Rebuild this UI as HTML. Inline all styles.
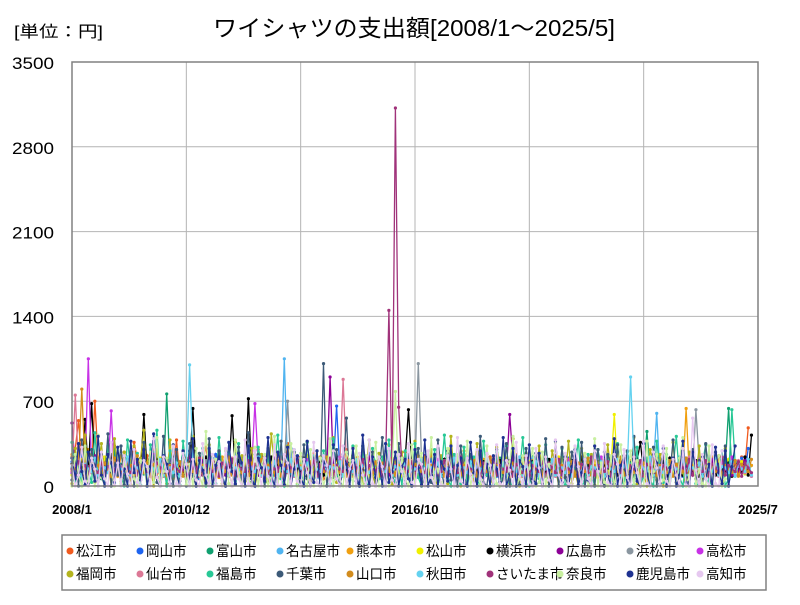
<!DOCTYPE html>
<html><head><meta charset="utf-8"><style>
body{margin:0;background:#fff;}
svg text{font-family:"Liberation Sans","Noto Sans CJK JP",sans-serif;}
</style></head><body>
<svg id="chart" width="800" height="600" xmlns="http://www.w3.org/2000/svg">
<text x="14" y="37" font-size="16" fill="#000" textLength="89" lengthAdjust="spacingAndGlyphs">[単位：円]</text>
<text x="213" y="36" font-size="23" fill="#000" textLength="402" lengthAdjust="spacingAndGlyphs">ワイシャツの支出額[2008/1～2025/5]</text>
<g id="grid"></g><g id="series"></g><g id="axes"></g><g id="legend"></g>
</svg>
<script>
const cities=["松江市","岡山市","富山市","名古屋市","熊本市","松山市","横浜市","広島市","浜松市","高松市","福岡市","仙台市","福島市","千葉市","山口市","秋田市","さいたま市","奈良市","鹿児島市","高知市"];
const colors=["#f05a1e","#1e64f0","#10a070","#50b4f0","#f0a010","#f0f000","#000000","#8c0096","#8a96a0","#c832e6","#b4b41e","#dc7896","#28c896","#3c5a78","#d28c1e","#64d2f0","#a0327a","#c8f0a0","#1e3291","#e6c8f0"];
const yTicks=[0,700,1400,2100,2800,3500];
const xTickLabels=["2008/1","2010/12","2013/11","2016/10","2019/9","2022/8","2025/7"];
const xTickMonths=[0,35,70,105,140,175,210];
const s0=[120,310,540,180,90,260,150,700,210,130,80,240,160,330,110,60,280,190,140,360,220,90,170,250,130,300,180,70,210,140,260,120,380,90,160,230,110,270,150,60,200,320,140,90,250,170,120,210,80,190,150,280,100,240,170,60,130,300,190,110,220,140,90,260,170,120,350,80,200,150,240,110,180,90,270,160,130,60,210,190,140,250,100,170,300,120,80,230,150,190,110,260,140,70,200,180,120,240,90,160,210,130,280,100,170,60,230,150,110,190,250,90,140,200,160,120,80,230,170,110,260,140,90,190,150,210,70,130,240,160,100,180,120,220,90,150,260,110,170,80,200,140,120,230,90,160,190,110,250,130,70,180,150,210,100,140,240,120,80,190,160,130,220,90,170,110,250,140,60,190,150,120,230,100,170,80,210,140,130,260,90,180,110,150,220,70,160,130,190,240,100,140,170,80,210,120,160,90,250,130,180,110,200,150,90,240,160,480];
const s1=[200,140,90,260,180,120,300,160,80,230,140,190,110,270,150,60,210,170,130,240,90,180,310,120,160,70,220,140,190,100,250,130,80,200,170,110,290,150,120,60,230,180,140,100,260,190,80,150,210,130,170,90,240,110,160,200,70,140,180,120,260,100,150,90,220,170,130,310,110,190,80,160,230,140,100,180,120,250,90,170,140,660,110,200,160,80,240,130,190,100,150,270,120,170,90,210,140,180,60,230,160,110,200,130,90,250,150,180,110,140,220,80,170,130,190,100,240,150,120,70,210,160,140,190,90,260,130,170,110,220,80,150,180,120,200,90,160,140,230,110,170,80,190,250,130,100,160,210,120,140,90,180,230,110,150,70,200,170,130,240,100,160,120,190,80,210,140,170,110,230,90,150,180,130,200,70,160,120,240,100,180,140,90,210,150,120,190,80,230,160,110,170,140,200,90,250,130,160,110,180,120,210,90,170,140,230,100,310];
const s2=[100,230,160,80,190,140,260,110,170,60,220,150,120,300,90,180,140,240,70,160,130,210,100,190,150,280,120,170,80,760,140,200,110,160,230,90,180,130,250,70,150,200,120,170,90,240,140,110,190,160,80,220,130,170,100,260,150,90,190,120,230,80,160,140,200,110,170,90,250,130,150,70,210,180,120,160,90,240,140,110,190,80,170,220,130,150,100,200,160,70,180,240,120,140,90,210,170,110,160,80,230,140,190,100,150,260,120,170,90,200,130,160,80,220,140,110,180,90,250,150,120,170,100,190,140,70,210,160,130,180,90,230,110,150,170,80,200,140,120,190,100,240,160,130,170,90,210,150,110,180,80,220,140,170,120,90,200,160,130,250,100,170,140,80,190,120,210,160,90,180,130,150,230,100,170,140,450,120,190,110,160,90,210,150,130,180,80,240,160,120,200,100,170,140,90,220,150,130,180,110,170,640,120,160,200];
const s3=[150,80,210,130,170,60,250,110,190,140,90,230,160,120,200,70,180,140,260,100,150,120,210,90,170,130,240,80,160,190,110,140,220,70,180,150,120,260,90,170,140,110,200,160,80,230,130,180,100,150,270,120,170,90,210,140,110,190,160,80,240,130,170,100,200,1050,150,120,180,90,230,140,110,190,160,70,210,130,180,100,150,250,120,170,90,200,140,110,180,160,80,230,130,190,100,150,220,120,170,90,210,140,110,250,160,80,190,130,170,100,150,230,120,180,90,200,140,110,170,160,70,240,130,190,100,150,210,120,180,90,220,140,110,170,160,80,200,130,190,100,150,230,120,170,90,210,140,110,180,160,80,240,130,190,100,150,220,120,170,90,210,140,110,180,160,70,230,130,190,100,150,210,120,180,90,200,140,110,170,600,80,220,130,190,100,150,240,120,180,90,210,140,110,170,160,80,230,130,190,100,150,210,120,180,90,200,140,110,170];
const s4=[260,140,90,200,160,300,120,180,70,230,150,110,190,140,80,250,170,120,210,90,160,130,240,100,180,150,70,220,140,190,110,160,260,90,170,130,200,120,180,80,230,150,110,190,160,70,240,130,180,100,150,220,120,170,90,200,140,110,260,160,80,190,130,170,100,150,230,120,180,90,210,140,110,170,160,80,240,130,190,100,150,220,120,170,90,200,140,110,180,160,80,230,130,190,100,150,210,120,180,90,220,140,110,170,160,80,250,130,190,100,150,210,120,180,90,200,140,110,170,160,80,230,130,190,100,150,220,120,180,90,210,140,110,170,160,80,240,130,190,100,150,210,120,180,90,200,140,110,170,160,80,230,130,190,100,150,220,120,180,90,210,140,110,170,160,80,240,130,190,100,150,210,120,180,90,200,140,110,170,160,80,230,130,190,100,150,220,120,640,90,210,140,110,170,160,80,240,130,190,100,150,210,120,180,90,200,140,110,170,160,80];
const s5=[90,180,130,220,70,160,110,200,150,80,240,120,170,100,190,60,210,140,90,250,130,170,110,200,80,160,140,230,100,180,120,60,210,150,90,190,130,170,240,100,160,80,200,140,110,180,70,220,150,120,190,90,160,240,110,170,80,200,140,130,180,70,230,150,100,190,120,160,90,210,140,110,250,80,170,130,190,100,150,220,70,180,140,110,200,90,160,130,240,100,170,80,190,150,120,210,90,160,140,100,230,80,170,130,190,110,150,200,70,180,140,120,210,90,160,130,250,100,170,80,190,150,110,220,90,160,140,120,200,70,180,130,190,100,150,230,90,170,140,110,200,80,160,130,210,100,180,120,150,240,80,170,140,110,190,90,160,130,220,100,180,70,150,200,120,170,590,140,110,190,90,160,130,210,100,180,80,150,240,120,170,90,140,200,110,160,130,190,80,230,150,120,170,100,210,90,160,140,190,110,150,220,80,170,130,200,100];
const s6=[180,90,240,130,550,110,680,150,80,210,170,120,260,90,190,140,70,230,160,110,200,140,590,120,170,90,220,150,110,190,80,250,140,170,100,210,130,640,120,180,90,240,150,110,200,160,80,230,130,580,100,210,140,110,720,90,170,150,120,200,80,240,130,180,110,160,210,90,190,140,120,230,80,170,150,110,200,90,180,130,160,240,100,170,140,120,210,90,190,130,160,110,250,80,170,140,120,200,90,180,150,110,230,630,170,140,120,190,90,210,150,110,180,80,220,140,170,120,190,90,240,150,110,180,130,160,200,90,170,140,120,210,80,190,150,110,230,90,170,140,120,200,80,180,150,110,220,90,170,140,120,190,80,210,150,110,240,90,170,140,120,200,80,180,150,110,220,90,170,130,120,190,80,210,360,110,180,90,170,140,120,200,80,230,150,110,190,90,170,140,120,210,80,180,150,110,220,90,170,140,120,190,80,210,150,110,240,90,420];
const s7=[520,140,210,90,180,160,120,250,110,170,80,230,140,190,100,160,210,130,90,240,170,110,200,150,80,260,120,180,140,100,220,160,90,190,130,170,240,110,150,80,210,140,120,190,100,230,160,90,180,130,170,80,220,150,110,190,140,90,250,120,170,100,210,150,80,190,130,170,110,240,140,90,200,160,120,180,80,230,150,900,170,110,190,140,90,210,130,160,120,180,80,240,150,110,200,130,170,90,220,140,110,190,160,80,210,130,170,100,250,140,120,190,90,200,150,110,180,130,160,80,230,140,120,190,100,170,150,90,210,130,180,110,240,140,590,200,90,170,150,120,190,80,220,140,110,180,130,160,90,210,150,120,190,100,170,140,80,230,130,180,110,160,200,90,170,140,120,190,80,210,150,110,180,130,170,90,230,140,120,190,100,160,150,80,210,130,180,110,170,140,90,200,120,160,150,80,220,130,180,110,170,140,90,190,120,160,210];
const s8=[150,210,90,180,130,240,110,170,80,200,140,120,190,90,230,160,110,180,70,210,140,130,250,100,170,90,200,150,120,180,80,220,140,110,190,160,90,240,130,170,100,210,150,80,190,120,170,230,90,160,140,110,200,80,180,150,120,220,90,170,140,110,190,80,240,150,700,180,90,170,140,120,210,80,190,150,110,230,90,170,140,120,200,80,180,150,110,220,90,170,140,130,190,80,210,150,110,240,90,170,140,120,200,80,180,150,1010,220,90,170,140,120,190,80,210,150,110,230,90,170,140,120,200,80,180,150,110,220,90,170,140,120,190,80,210,150,110,240,90,170,140,120,200,80,180,150,110,220,90,170,140,120,190,80,210,150,110,230,90,170,140,120,200,80,180,150,110,220,90,170,140,120,190,80,210,150,110,240,90,170,140,120,200,80,180,150,110,220,90,170,140,630,190,80,210,150,110,230,90,170,140,120,200,80,180,150,110,220,90,170,140,120,190,80,210];
const s9=[110,170,250,90,160,1050,130,200,80,180,140,120,620,90,170,150,110,210,80,190,140,120,230,90,160,150,110,200,80,180,140,120,220,90,170,150,110,190,80,210,140,120,240,90,160,150,110,200,80,180,140,120,220,90,170,150,680,190,80,210,140,120,230,90,160,150,110,200,80,180,140,120,220,90,170,150,110,190,80,210,140,120,240,90,160,150,110,200,80,180,140,120,220,90,170,150,110,190,80,210,140,120,230,90,160,150,110,200,80,180,140,120,220,90,170,150,110,190,80,210,140,120,240,90,160,150,110,200,80,180,140,120,220,90,170,150,110,190,80,210,140,120,230,90,160,150,110,200,80,180,140,120,220,90,170,150,110,190,80,210,140,120,240,90,160,150,110,200,80,180,140,120,220,90,170,150,110,190,80,210,140,120,230,90,160,150,110,200,80,180,140,120,220,90,170,150,110,190,80,210,140,120,240,90,160,150,110,200,80,180,140];
const s10=[20,310,140,0,420,90,260,30,180,350,60,210,0,390,120,40,280,170,10,330,90,230,460,50,150,0,300,110,240,20,380,70,190,0,270,140,60,410,30,220,100,0,340,160,80,290,20,200,130,0,360,70,250,40,180,310,0,120,260,90,30,430,150,60,210,0,330,110,270,20,190,80,360,40,140,290,0,230,100,60,400,30,170,250,0,120,320,70,210,20,150,380,90,0,270,130,50,340,10,200,110,280,40,160,0,370,90,230,30,140,300,60,0,250,180,20,410,100,150,0,290,70,220,40,350,10,130,260,80,0,320,160,50,230,20,390,110,0,180,270,60,140,0,330,90,210,30,290,150,0,240,70,370,20,120,0,310,180,60,260,10,200,90,0,340,140,40,280,120,0,230,70,400,20,160,100,0,300,190,50,260,0,140,80,360,30,220,110,0,280,150,60,330,20,190,90,0,250,140,40,310,60,170];
const s11=[130,750,160,90,210,140,110,190,80,240,150,120,180,90,200,140,110,230,80,170,150,120,190,90,210,140,110,180,80,220,150,120,190,90,200,140,110,240,80,170,150,120,190,90,210,140,110,180,80,230,150,120,190,90,200,140,110,220,80,170,150,120,190,90,210,140,110,180,80,240,150,120,190,90,200,140,110,230,80,170,150,120,190,880,210,140,110,180,80,220,150,120,190,90,200,140,110,240,80,170,150,120,190,90,210,140,110,180,80,230,150,120,190,90,200,140,110,220,80,170,150,120,190,90,210,140,110,180,80,240,150,120,190,90,200,140,110,230,80,170,150,120,190,90,210,140,110,180,80,220,150,120,190,90,200,140,110,240,80,170,150,120,190,90,210,140,110,180,80,230,150,120,190,90,200,140,110,220,80,170,150,120,190,90,210,140,110,180,80,240,150,120,190,90,200,140,110,230,80,170,150,120,190,90,210,140,110,180,80,220,150,120];
const s12=[360,40,190,0,280,120,30,440,70,210,0,330,150,20,250,90,0,380,130,60,270,10,200,0,340,100,460,30,170,0,290,80,220,10,370,140,0,260,50,180,310,0,120,230,20,400,90,0,280,160,40,350,0,110,240,70,0,320,190,30,270,0,150,420,60,0,230,100,300,10,180,0,360,70,250,30,0,290,140,20,390,80,0,210,160,50,330,0,120,270,20,0,310,170,60,240,0,380,90,30,200,0,290,130,10,350,70,0,230,160,40,300,0,110,420,60,0,260,180,20,320,0,140,240,50,0,370,90,200,10,280,0,150,330,30,0,250,110,400,20,0,190,270,60,0,340,130,0,230,80,310,10,0,200,150,380,0,40,260,100,0,300,170,20,240,0,130,350,60,0,280,180,10,320,0,90,230,50,0,370,140,30,260,0,160,410,70,0,220,110,300,20,0,190,340,40,0,250,120,290,0,60,630,200];
const s13=[50,240,0,380,110,20,300,170,0,260,60,430,0,190,90,330,10,150,280,0,220,70,360,0,130,250,30,0,410,100,180,0,300,40,230,0,350,80,0,270,160,20,390,0,120,290,50,0,240,180,10,320,0,90,440,30,0,260,140,0,310,60,200,0,370,20,170,0,280,110,0,340,60,0,230,150,20,1010,0,190,70,300,0,130,560,0,250,40,0,330,160,10,280,0,100,400,0,210,60,0,350,120,20,260,0,170,310,0,80,240,30,0,380,140,0,290,50,200,0,330,90,0,260,170,0,410,30,0,230,120,300,0,60,350,0,180,250,10,0,310,90,0,270,150,20,390,0,110,240,0,320,70,0,280,160,10,360,0,130,230,0,300,50,0,260,180,20,340,0,100,290,0,410,60,0,230,140,10,320,0,170,270,0,90,380,30,0,250,120,0,300,60,210,0,350,80,0,280,150,20,330,0];
const s14=[240,120,180,800,150,90,210,130,170,100,190,140,80,230,160,110,200,120,170,90,250,140,110,190,80,180,150,120,220,90,170,140,110,200,80,190,150,120,230,90,170,140,110,210,80,180,150,120,240,90,170,140,110,200,80,190,150,120,220,90,170,140,110,210,80,180,150,120,230,90,170,140,110,200,80,190,150,120,240,90,170,140,110,210,80,180,150,120,220,90,170,140,110,200,80,190,150,120,230,90,170,140,110,210,80,180,150,120,240,90,170,140,110,200,80,190,150,120,220,90,170,140,110,210,80,180,150,120,230,90,170,140,110,200,80,190,150,120,240,90,170,140,110,210,80,180,150,120,220,90,170,140,110,200,80,190,150,120,230,90,170,140,110,210,80,180,150,120,240,90,170,140,110,200,80,190,150,120,220,90,170,140,110,210,80,180,150,120,230,90,170,140,110,200,80,190,150,120,240,90,170,140,110,210,80,180,150,120,220,90,170];
const s15=[160,110,200,80,180,140,120,230,90,170,150,110,190,80,210,140,120,240,90,160,150,110,200,80,180,140,120,220,90,170,150,110,190,80,210,140,1000,230,90,160,150,110,200,80,180,140,120,220,90,170,150,110,190,80,210,140,120,240,90,160,150,110,200,80,180,140,120,220,90,170,150,110,190,80,210,140,120,230,90,160,150,110,200,80,180,140,120,220,90,170,150,110,190,80,210,140,120,240,90,160,150,110,200,80,180,140,120,220,90,170,150,110,190,80,210,140,120,230,90,160,150,110,200,80,180,140,120,220,90,170,150,110,190,80,210,140,120,240,90,160,150,110,200,80,180,140,120,220,90,170,150,110,190,80,210,140,120,230,90,160,150,110,200,80,180,140,120,220,90,170,150,900,190,80,210,140,120,240,90,160,150,110,200,80,180,140,120,220,90,170,150,110,190,80,210,140,120,230,90,160,150,110,200,80,180,140,120,220,90,170];
const s16=[140,90,200,120,170,80,230,150,110,190,90,160,140,120,210,80,180,150,110,240,90,170,140,120,200,80,190,150,110,220,90,170,140,120,210,80,180,150,110,230,90,170,140,120,200,80,190,150,110,220,90,170,140,120,210,80,180,150,110,240,90,170,140,120,200,80,190,150,110,220,90,170,140,120,210,80,180,150,110,230,90,170,140,120,200,80,190,150,110,220,90,170,140,120,210,80,180,1450,110,3120,650,170,140,120,200,80,190,150,110,220,90,170,140,120,210,80,180,150,110,240,90,170,140,120,200,80,190,150,110,220,90,170,140,120,210,80,180,150,110,230,90,170,140,120,200,80,190,150,110,220,90,170,140,120,210,80,180,150,110,240,90,170,140,120,200,80,190,150,110,220,90,170,140,120,210,80,180,150,110,230,90,170,140,120,200,80,190,150,110,220,90,170,140,120,210,80,180,150,110,240,90,170,140,120,200,80,190,150,110,220,90,170,140,120];
const s17=[0,260,90,0,330,40,180,0,420,70,0,240,130,0,300,20,190,0,370,60,0,210,150,0,280,30,400,0,120,230,0,340,80,0,260,10,180,0,310,90,0,450,40,0,220,160,0,290,20,0,380,110,0,240,60,0,320,0,170,260,0,90,410,0,200,30,0,350,140,0,270,50,0,300,0,180,230,0,100,390,0,150,40,0,280,210,0,330,70,0,250,0,160,360,0,20,290,0,130,780,0,230,60,0,340,0,190,270,0,80,400,0,140,30,0,310,220,0,260,50,0,370,0,120,240,0,90,330,0,170,20,0,290,0,200,410,0,60,250,0,150,310,0,30,280,0,180,0,360,90,0,230,40,0,320,140,0,270,0,60,390,0,190,30,0,250,0,160,340,0,80,290,0,210,20,0,370,0,120,260,0,50,310,0,180,0,230,400,0,90,280,0,140,20,0,330,0,200,250,0,60];
const s18=[230,60,350,120,10,280,170,40,410,90,0,260,190,30,320,80,140,0,370,110,220,50,300,0,160,430,70,0,250,180,20,340,100,0,290,150,60,390,0,210,130,30,310,0,170,240,80,0,360,120,20,270,190,0,330,60,0,230,150,40,400,90,0,280,170,10,320,0,140,250,70,0,370,110,30,290,0,200,160,0,340,60,20,260,180,0,310,90,0,420,130,0,240,70,190,0,350,30,120,280,0,160,220,60,0,300,150,10,380,0,90,260,0,200,140,40,330,0,170,230,20,0,360,110,0,290,70,180,0,250,140,30,400,0,100,310,0,210,160,0,340,60,20,270,0,190,130,0,370,90,30,240,0,160,300,0,110,220,50,0,330,140,0,280,80,10,390,0,170,250,0,120,210,40,0,350,100,0,260,190,20,310,0,150,230,0,90,370,30,0,280,130,0,240,60,180,0,320,110,20,290,0,160,330];
const s19=[170,0,90,320,40,0,230,140,0,280,60,0,360,10,190,0,250,100,0,300,30,0,210,160,0,390,70,0,240,120,0,330,20,0,270,180,0,220,50,0,350,90,0,260,10,200,0,310,130,0,240,60,0,380,20,0,290,150,0,230,80,0,340,10,0,260,190,0,300,40,0,220,110,0,360,30,0,250,170,0,290,60,0,330,0,140,210,0,270,90,0,380,20,0,240,160,0,310,50,0,260,120,0,350,30,0,220,180,0,290,70,0,330,10,0,250,140,0,400,40,0,230,100,0,300,60,0,270,170,0,340,20,0,210,130,0,360,80,0,250,10,0,310,150,0,240,50,0,380,90,0,270,20,0,330,160,0,220,60,0,290,120,0,350,30,0,260,180,0,300,70,0,240,110,0,370,20,0,280,150,0,330,40,0,220,90,0,310,10,0,560,130,0,260,60,0,340,20,0,290];
const seriesValues=[s0,s1,s2,s3,s4,s5,s6,s7,s8,s9,s10,s11,s12,s13,s14,s15,s16,s17,s18,s19];
const monthCount=209; // 2008/1 .. 2025/5

const NS="http://www.w3.org/2000/svg";
const L=72,R=758,T=62,B=486,YMAX=3500,XMAX=210;
const xs=m=>L+(R-L)*m/XMAX;
const ys=v=>B-(B-T)*v/YMAX;
function mk(tag,attrs,parent){const e=document.createElementNS(NS,tag);for(const k in attrs)e.setAttribute(k,attrs[k]);parent.appendChild(e);return e;}
const grid=document.getElementById('grid'),axes=document.getElementById('axes'),ser=document.getElementById('series'),leg=document.getElementById('legend');
mk('rect',{x:L,y:T,width:R-L,height:B-T,fill:'#fff'},grid);
yTicks.forEach(v=>{
  const ln=mk('line',{x1:L,x2:R,y1:ys(v),y2:ys(v),stroke:'#b4b4b4','stroke-width':1},grid);
  
  
  const s=String(v);
  const t=mk('text',{x:L-18,y:ys(v)+7,'font-size':17,'text-anchor':'end',fill:'#000',textLength:s.length*10.5,lengthAdjust:'spacingAndGlyphs'},axes);
  t.textContent=s;
  
  
});
xTickMonths.forEach((m,i)=>{
  const ln=mk('line',{x1:xs(m),x2:xs(m),y1:T,y2:B,stroke:'#b4b4b4','stroke-width':1},grid);
  
  
  const t=mk('text',{x:xs(m),y:B+28,'font-size':13,'font-weight':'bold','text-anchor':'middle',fill:'#000'},axes);
  t.textContent=xTickLabels[i];
  
  
});
const frame=mk('rect',{x:L,y:T,width:R-L,height:B-T,fill:'none',stroke:'#808080','stroke-width':1.5},axes);


seriesValues.forEach((all,si)=>{
  const vals=all.slice(0,monthCount);
  const g=mk('g',{},ser);
  
  
  const pts=vals.map((v,i)=>xs(i).toFixed(1)+','+ys(v).toFixed(1)).join(' ');
  const pl=mk('polyline',{points:pts,fill:'none',stroke:colors[si],'stroke-width':1.3},g);
  
  
  vals.forEach((v,i)=>{
    const c=mk('circle',{cx:xs(i),cy:ys(v),r:1.6,fill:colors[si]},g);
    
    
  });
});
const box=mk('rect',{x:62,y:535,width:704,height:55,fill:'#fff',stroke:'#808080','stroke-width':1.5},leg);


cities.forEach((c,i)=>{
  const row=Math.floor(i/10),col=i%10;
  const x=66+col*70,y=551+row*23;
  const g=mk('g',{},leg);
  
  
  mk('circle',{cx:x+4,cy:y,r:3.5,fill:colors[i]},g);
  const t=mk('text',{x:x+10,y:y+5,'font-size':14,fill:'#000',textLength:c.length*13.5,lengthAdjust:'spacingAndGlyphs'},g);
  t.textContent=c;
});
</script>
</body></html>
